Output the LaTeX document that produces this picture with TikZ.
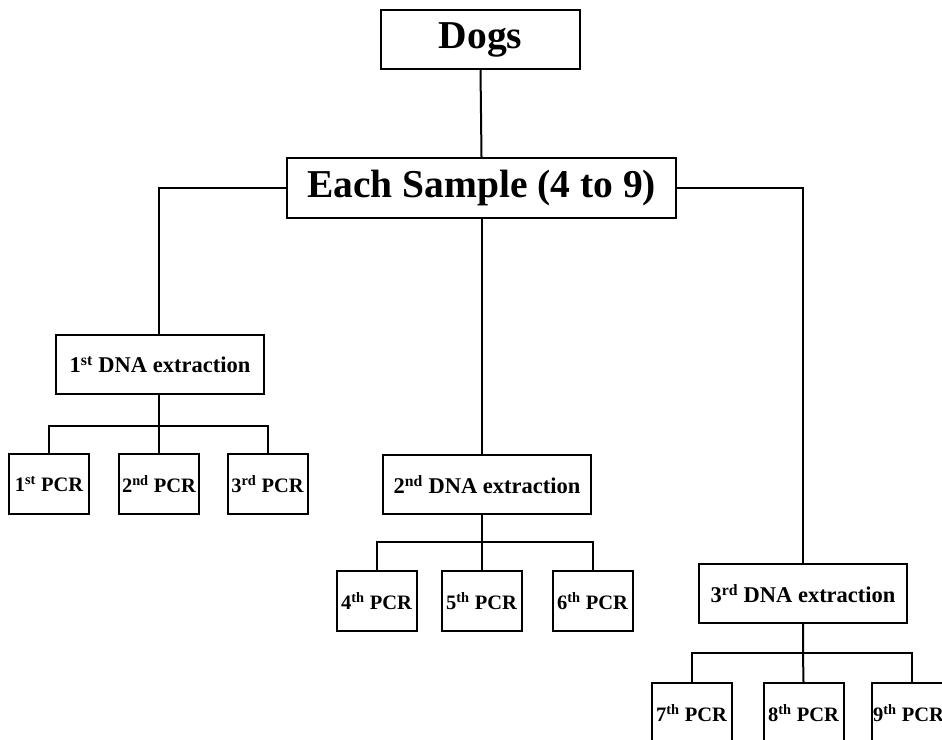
\documentclass[tikz,border=0pt]{standalone}
\usepackage{fontspec}
\setmainfont{Liberation Serif}
\begin{document}
\begin{tikzpicture}[x=1pt,y=-1pt,
  box/.style={draw,line width=2pt,rectangle,inner sep=0pt,align=center,font=\bfseries},
  big/.style={box,font=\bfseries\fontsize{39.5}{41}\selectfont},
  dna/.style={box,minimum width=208pt,minimum height=59pt,font=\bfseries\fontsize{22.5}{24}\selectfont},
  pcr/.style={box,minimum width=80pt,minimum height=60pt,font=\bfseries\fontsize{20.5}{22}\selectfont},
  link/.style={line width=2pt}]
\useasboundingbox (0,0) rectangle (942,739);
\clip (0,0) rectangle (942,739);
\node[big,minimum width=199pt,minimum height=59pt] (dogs) at (480.5,39.5) {Dogs};
\node[big,minimum width=389pt,minimum height=60pt] (s) at (481.5,188) {Each Sample (4 to 9)};
\node[dna] (d1) at (160,364.5) {1\textsuperscript{st} DNA extraction};
\node[dna] (d2) at (487,484.5) {2\textsuperscript{nd} DNA extraction};
\node[dna] (d3) at (803,593.5) {3\textsuperscript{rd} DNA extraction};
\node[pcr] (p1) at (49,484) {1\textsuperscript{st} PCR};
\node[pcr] (p2) at (159,484) {2\textsuperscript{nd} PCR};
\node[pcr] (p3) at (267.5,484) {3\textsuperscript{rd} PCR};
\node[pcr] (p4) at (376.5,601) {4\textsuperscript{th} PCR};
\node[pcr] (p5) at (481.5,601) {5\textsuperscript{th} PCR};
\node[pcr] (p6) at (592.5,601) {6\textsuperscript{th} PCR};
\node[pcr] (p7) at (691.5,713) {7\textsuperscript{th} PCR};
\node[pcr] (p8) at (803.5,713) {8\textsuperscript{th} PCR};
\node[pcr] (p9) at (911.5,713) {9\textsuperscript{th} PCR\hspace*{6pt}};
\coordinate (b1) at (159,426);
\coordinate (b2) at (481.5,542);
\coordinate (b3) at (803,653);
\coordinate (m2) at (481.5,455);
\draw[link] (dogs.south) -- (s.north);
\draw[link] (s.west) -| (d1.north -| b1);
\draw[link] (s.east) -| (d3.north);
\draw[link] (s.south) -- (m2);
\draw[link] (d1.south -| b1) -- (b1) -- (p2.north);
\draw[link] (p1.north) |- (b1) -| (p3.north);
\draw[link] (b2 |- d2.south) -- (b2) -- (p5.north);
\draw[link] (p4.north) |- (b2) -| (p6.north);
\draw[link] (d3.south) -- (b3) -- (p8.north);
\draw[link] (p7.north) |- (b3) -| (p9.north);
\end{tikzpicture}
\end{document}
